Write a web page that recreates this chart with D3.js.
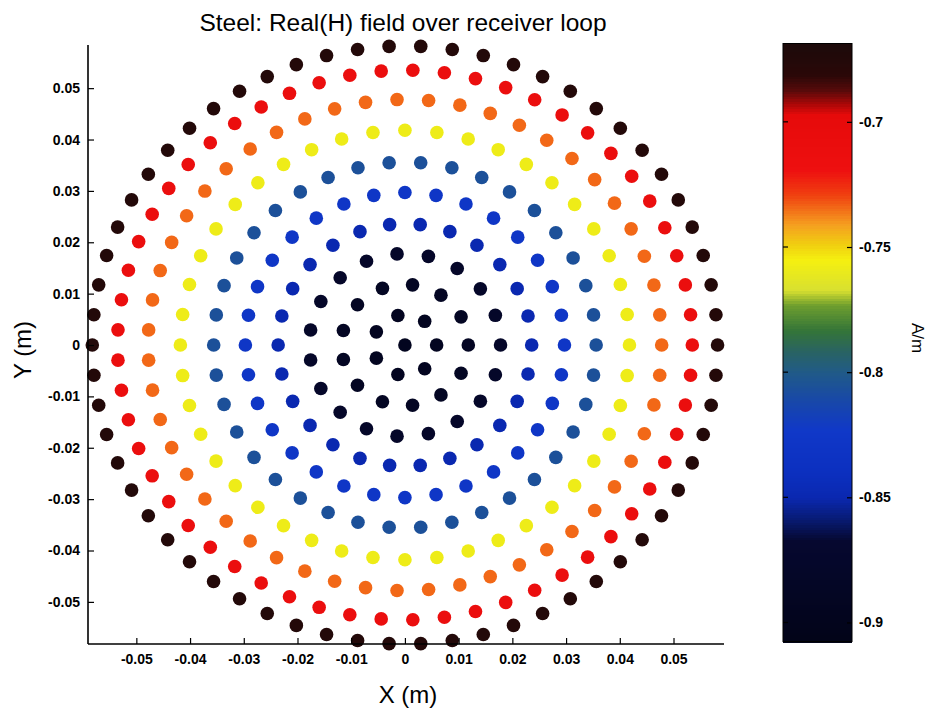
<!DOCTYPE html>
<html>
<head>
<meta charset="utf-8">
<script src="https://cdn.jsdelivr.net/npm/d3@7"></script>
<style>
  body { margin: 0; background: #fff; }
  text { font-family: "Liberation Sans", Arial, sans-serif; fill: #000; }
</style>
</head>
<body>
<svg id="chart" width="932" height="713"></svg>
<script>
// receiver loop: rings of sample points, centre first
const ringRadius = [0, 0.0059, 0.0118, 0.0178, 0.0236, 0.0297, 0.0356, 0.0418, 0.0478, 0.0535, 0.0582];
const ringCount = [1, 7, 13, 19, 26, 32, 38, 44, 51, 57, 62];
const ringValue = [-0.896, -0.894, -0.889, -0.878, -0.85, -0.827, -0.806, -0.758, -0.734, -0.71, -0.675];

const xTicks = [-0.05, -0.04, -0.03, -0.02, -0.01, 0, 0.01, 0.02, 0.03, 0.04, 0.05];
const xTickLabels = ['-0.05', '-0.04', '-0.03', '-0.02', '-0.01', '0', '0.01', '0.02', '0.03', '0.04', '0.05'];
const yTicks = [-0.05, -0.04, -0.03, -0.02, -0.01, 0, 0.01, 0.02, 0.03, 0.04, 0.05];
const yTickLabels = ['-0.05', '-0.04', '-0.03', '-0.02', '-0.01', '0', '0.01', '0.02', '0.03', '0.04', '0.05'];
const cbTicks = [-0.7, -0.75, -0.8, -0.85, -0.9];
const cbTickLabels = ['-0.7', '-0.75', '-0.8', '-0.85', '-0.9'];
const cbRange = [-0.9076, -0.6687];

// colour map
const cmapValues = [-0.9076, -0.867, -0.859, -0.85, -0.839, -0.823, -0.811, -0.8, -0.791, -0.783, -0.773,
  -0.767, -0.755, -0.749, -0.741, -0.729, -0.719, -0.697, -0.693, -0.687, -0.681, -0.6687];
const cmapColors = ['#020418', '#060830', '#081a70', '#0a28b0', '#0c30c0', '#1038c8', '#1848a8', '#205a88',
  '#2a6460', '#347538', '#6e9e2e', '#d8e030', '#f5f010', '#f0d010', '#f5a020', '#f04010', '#ee1010',
  '#e60a0a', '#b00808', '#550a0a', '#2a0808', '#1c0a0a'];

const svg = d3.select('#chart');

const x = d3.scaleLinear().domain([-0.059, 0.0594]).range([88, 724]);
const y = d3.scaleLinear().domain([-0.0582, 0.0584]).range([644, 45]);
const color = d3.scaleLinear().domain(cmapValues).range(cmapColors).interpolate(d3.interpolateRgb).clamp(true);

const points = [];
ringRadius.forEach((r, i) => {
  for (let j = 0; j < ringCount[i]; j++) {
    const a = 2 * Math.PI * j / ringCount[i];
    points.push({ x: r * Math.cos(a), y: r * Math.sin(a), v: ringValue[i] });
  }
});

svg.append('g')
  .selectAll('circle')
  .data(points)
  .join('circle')
  .attr('cx', d => x(d.x))
  .attr('cy', d => y(d.y))
  .attr('r', 6.8)
  .attr('fill', d => color(d.v));

// axes (left and bottom only, ticks inward)
const xAxis = svg.append('g').attr('transform', `translate(0,${y.range()[0]})`)
  .call(d3.axisBottom(x).tickValues(xTicks).tickSize(-6).tickPadding(10)
    .tickFormat((d, i) => xTickLabels[i]));
const yAxis = svg.append('g').attr('transform', `translate(${x.range()[0]},0)`)
  .call(d3.axisLeft(y).tickValues(yTicks).tickSize(-6).tickPadding(8)
    .tickFormat((d, i) => yTickLabels[i]));

[xAxis, yAxis].forEach(g => {
  g.select('.domain').attr('stroke', '#000').attr('stroke-width', 1.6);
  g.selectAll('.tick line').attr('stroke', '#000').attr('stroke-width', 1.2);
  g.selectAll('.tick text').attr('font-size', 14).attr('font-weight', 'bold')
    .attr('font-family', '"Liberation Sans", Arial, sans-serif');
});
xAxis.select('.domain').attr('d', `M${x.range()[0]},0H${x.range()[1]}`);
yAxis.select('.domain').attr('d', `M0,${y.range()[0]}V${y.range()[1]}`);

svg.append('text')
  .attr('x', 403).attr('y', 31)
  .attr('text-anchor', 'middle')
  .attr('font-size', 24.5)
  .text('Steel: Real(H) field over receiver loop');

svg.append('text')
  .attr('x', 408).attr('y', 703)
  .attr('text-anchor', 'middle')
  .attr('font-size', 24)
  .text('X (m)');

svg.append('text')
  .attr('transform', 'translate(31,350) rotate(-90)')
  .attr('text-anchor', 'middle')
  .attr('font-size', 24)
  .text('Y (m)');

// colour bar
const cbX = 783, cbW = 69;
const cb = d3.scaleLinear().domain(cbRange).range([641.5, 43.5]);
const nBands = 240;
const bandStep = (cbRange[1] - cbRange[0]) / nBands;
const bands = d3.range(nBands).map(i => cbRange[0] + i * bandStep);

svg.append('g')
  .attr('shape-rendering', 'crispEdges')
  .selectAll('rect')
  .data(bands)
  .join('rect')
  .attr('x', cbX)
  .attr('width', cbW)
  .attr('y', d => cb(d + bandStep))
  .attr('height', d => cb(d) - cb(d + bandStep) + 1)
  .attr('fill', d => color(d + bandStep / 2));

svg.append('rect')
  .attr('x', cbX).attr('y', cb.range()[1])
  .attr('width', cbW).attr('height', cb.range()[0] - cb.range()[1])
  .attr('fill', 'none').attr('stroke', '#000').attr('stroke-width', 1);

const cbAxis = svg.append('g').attr('transform', `translate(${cbX + cbW},0)`)
  .call(d3.axisRight(cb).tickValues(cbTicks).tickSize(-5).tickPadding(7)
    .tickFormat((d, i) => cbTickLabels[i]));
cbAxis.select('.domain').remove();
cbAxis.selectAll('.tick line').attr('stroke', '#000').attr('stroke-width', 1.2);
cbAxis.selectAll('.tick text').attr('font-size', 14).attr('font-weight', 'bold')
  .attr('font-family', '"Liberation Sans", Arial, sans-serif');
svg.append('g').selectAll('line')
  .data(cbTicks)
  .join('line')
  .attr('x1', cbX).attr('x2', cbX + 5)
  .attr('y1', d => cb(d)).attr('y2', d => cb(d))
  .attr('stroke', '#000').attr('stroke-width', 1.2);

svg.append('text')
  .attr('transform', 'translate(912,338) rotate(90)')
  .attr('text-anchor', 'middle')
  .attr('font-size', 17)
  .text('A/m');
</script>
</body>
</html>
